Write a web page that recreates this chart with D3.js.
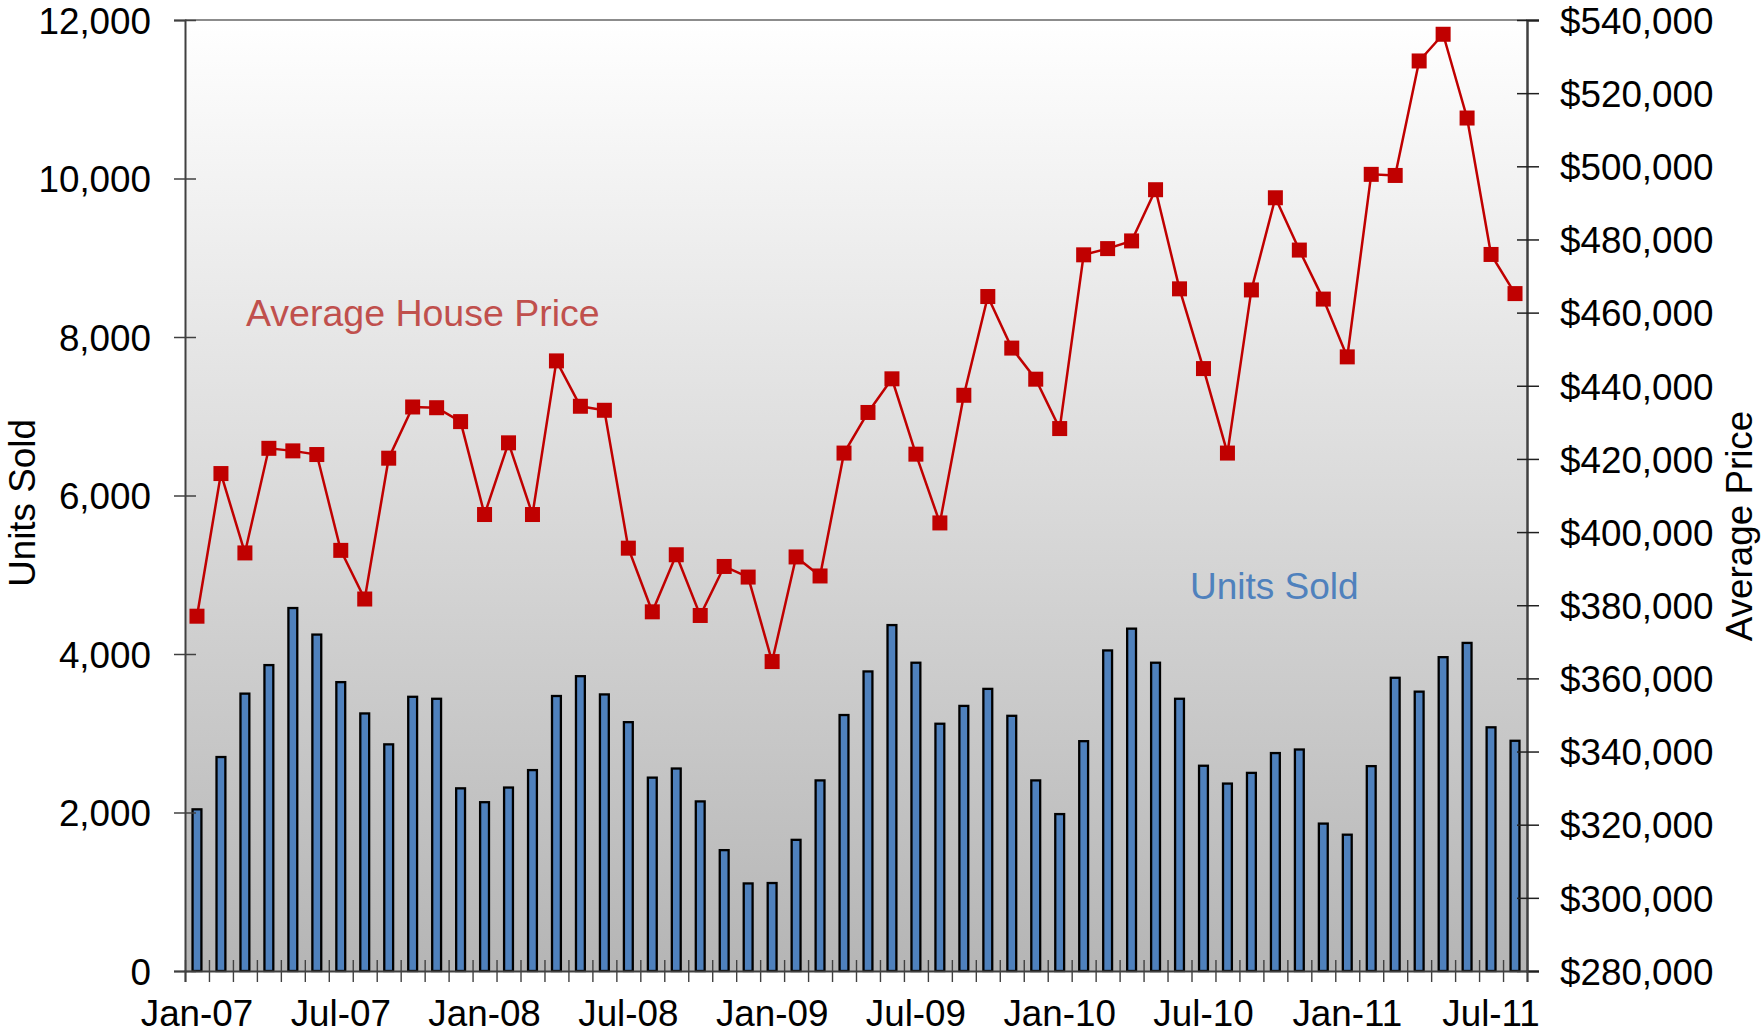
<!DOCTYPE html>
<html lang="en">
<head>
<meta charset="UTF-8">
<title>Units Sold and Average House Price</title>
<script src="https://d3js.org/d3.v7.min.js"></script>
<style>
  body { margin: 0; background: #fff; }
  text { font-family: "Liberation Sans", Arial, sans-serif; }
</style>
</head>
<body>
<div id="chart"></div>
<script>
// months on the category axis
var months = [
  "Jan-07","Feb-07","Mar-07","Apr-07","May-07","Jun-07","Jul-07","Aug-07","Sep-07","Oct-07","Nov-07","Dec-07",
  "Jan-08","Feb-08","Mar-08","Apr-08","May-08","Jun-08","Jul-08","Aug-08","Sep-08","Oct-08","Nov-08","Dec-08",
  "Jan-09","Feb-09","Mar-09","Apr-09","May-09","Jun-09","Jul-09","Aug-09","Sep-09","Oct-09","Nov-09","Dec-09",
  "Jan-10","Feb-10","Mar-10","Apr-10","May-10","Jun-10","Jul-10","Aug-10","Sep-10","Oct-10","Nov-10","Dec-10",
  "Jan-11","Feb-11","Mar-11","Apr-11","May-11","Jun-11","Jul-11","Aug-11"
];

// units sold (left axis)
var unitsSold = [
  2040, 2700, 3500, 3860, 4580, 4245, 3645, 3250, 2860, 3460, 3435, 2305,
  2130, 2315, 2535, 3470, 3720, 3490, 3140, 2440, 2555, 2140, 1525, 1105,
  1110, 1655, 2405, 3230, 3780, 4365, 3890, 3120, 3345, 3560, 3220, 2405,
  1980, 2900, 4045, 4320, 3890, 3435, 2590, 2365, 2500, 2750, 2795, 1860,
  1720, 2585, 3700, 3525, 3960, 4140, 3075, 2905
];

// average house price (right axis)
var avgPrice = [
  377000, 416000, 394300, 422900, 422200, 421200, 395000, 381700, 420200, 434200, 434000, 430200,
  404800, 424400, 404800, 446800, 434400, 433300, 395600, 378200, 393800, 377200, 390600, 387700,
  364600, 393200, 388000, 421600, 432700, 441900, 421300, 402500, 437400, 464400, 450300, 441800,
  428300, 475800, 477500, 479600, 493600, 466500, 444700, 421600, 466200, 491400, 477100, 463700,
  447900, 497800, 497500, 528800, 536100, 513200, 475900, 465200
];

// tick labels
var xTickLabels = ["Jan-07","Jul-07","Jan-08","Jul-08","Jan-09","Jul-09","Jan-10","Jul-10","Jan-11","Jul-11"];
var unitTicks = [0, 2000, 4000, 6000, 8000, 10000, 12000];
var priceTicks = d3.range(280000, 540001, 20000);

var margin = {top: 20, right: 234, bottom: 62, left: 185},
    width = 1761 - margin.left - margin.right,
    height = 1033 - margin.top - margin.bottom;

var svg = d3.select("#chart")
  .append("svg")
    .attr("width", 1761)
    .attr("height", 1033);

// plot background gradient
var defs = svg.append("defs");
var grad = defs.append("linearGradient")
    .attr("id", "bg")
    .attr("x1", 0).attr("y1", 0).attr("x2", 0).attr("y2", 1);
grad.append("stop").attr("offset", "0%").attr("stop-color", "#ffffff");
grad.append("stop").attr("offset", "100%").attr("stop-color", "#b5b5b5");

var g = svg.append("g")
    .attr("transform", "translate(" + margin.left + "," + margin.top + ")");

g.append("rect")
    .attr("width", width)
    .attr("height", height)
    .attr("fill", "url(#bg)");

// top border
g.append("line")
    .attr("x1", 0).attr("x2", width)
    .attr("y1", 0).attr("y2", 0)
    .attr("stroke", "#8c8c8c")
    .attr("stroke-width", 2);

// scales
var x = d3.scaleBand()
    .domain(months)
    .range([0, width])
    .padding(0);

var xIdx = d3.scaleLinear()
    .domain([0, months.length])
    .range([0, width]);

var yUnits = d3.scaleLinear()
    .domain([0, 12000])
    .range([height, 0]);

var yPrice = d3.scaleLinear()
    .domain([280000, 540000])
    .range([height, 0]);

// bars
var barW = x.bandwidth() * 0.37;
g.append("g")
  .selectAll("rect")
  .data(unitsSold)
  .enter()
  .append("rect")
    .attr("x", function(d, i) { return x(months[i]) + (x.bandwidth() - barW) / 2; })
    .attr("y", function(d) { return yUnits(d); })
    .attr("width", barW)
    .attr("height", function(d) { return height - yUnits(d); })
    .attr("fill", "#4f81bd")
    .attr("stroke", "#000")
    .attr("stroke-width", 2.3);

// price line
var line = d3.line()
    .x(function(d, i) { return x(months[i]) + x.bandwidth() / 2; })
    .y(function(d) { return yPrice(d); });

g.append("path")
    .datum(avgPrice)
    .attr("fill", "none")
    .attr("stroke", "#c00000")
    .attr("stroke-width", 2.5)
    .attr("d", line);

var mk = 15;
g.append("g")
  .selectAll("rect")
  .data(avgPrice)
  .enter()
  .append("rect")
    .attr("x", function(d, i) { return x(months[i]) + x.bandwidth() / 2 - mk / 2; })
    .attr("y", function(d) { return yPrice(d) - mk / 2; })
    .attr("width", mk)
    .attr("height", mk)
    .attr("fill", "#c00000");

// left axis
var leftAxis = g.append("g")
    .call(d3.axisLeft(yUnits).tickValues(unitTicks).tickSize(11).tickPadding(23).tickFormat(d3.format(",")));
leftAxis.select(".domain").attr("stroke", "#404040").attr("stroke-width", 2);
leftAxis.selectAll(".tick line").attr("x1", 11).attr("stroke", "#404040").attr("stroke-width", 1.5);
leftAxis.selectAll(".tick text").attr("font-size", "36.8px").attr("fill", "#000").attr("dy", "0.36em");

// right axis
var rightAxis = g.append("g")
    .attr("transform", "translate(" + width + ",0)")
    .call(d3.axisRight(yPrice).tickValues(priceTicks).tickSize(12).tickPadding(21).tickFormat(d3.format("$,")));
rightAxis.select(".domain").attr("stroke", "#404040").attr("stroke-width", 2.5);
rightAxis.selectAll(".tick line").attr("x1", -10).attr("stroke", "#202020").attr("stroke-width", 1.5);
rightAxis.selectAll(".tick text").attr("font-size", "36.8px").attr("fill", "#000").attr("dy", "0.36em");

// bottom axis: ticks at category boundaries
var bottomTicks = g.append("g")
    .attr("transform", "translate(0," + height + ")")
    .call(d3.axisBottom(xIdx).tickValues(d3.range(months.length + 1)).tickSize(11).tickFormat(""));
bottomTicks.select(".domain").attr("stroke", "#404040").attr("stroke-width", 2);
bottomTicks.selectAll(".tick line").attr("y1", -11).attr("stroke", "#404040").attr("stroke-width", 1.4);

// bottom axis labels
var bottomLabels = g.append("g")
    .attr("transform", "translate(0," + height + ")")
    .call(d3.axisBottom(x).tickValues(xTickLabels).tickSize(0).tickPadding(29));
bottomLabels.select(".domain").remove();
bottomLabels.selectAll(".tick text").attr("font-size", "36.8px").attr("fill", "#000");

// axis titles
svg.append("text")
    .attr("transform", "translate(35," + 503 + ") rotate(-90)")
    .attr("text-anchor", "middle")
    .attr("font-size", "36.8px")
    .attr("fill", "#000")
    .text("Units Sold");

svg.append("text")
    .attr("transform", "translate(1752," + 526 + ") rotate(-90)")
    .attr("text-anchor", "middle")
    .attr("font-size", "36.8px")
    .attr("fill", "#000")
    .text("Average Price");

// series annotations
svg.append("text")
    .attr("x", 246)
    .attr("y", 326)
    .attr("font-size", "37.5px")
    .attr("fill", "#c0504d")
    .text("Average House Price");

svg.append("text")
    .attr("x", 1190)
    .attr("y", 599)
    .attr("font-size", "37px")
    .attr("fill", "#4f81bd")
    .text("Units Sold");
</script>
</body>
</html>
